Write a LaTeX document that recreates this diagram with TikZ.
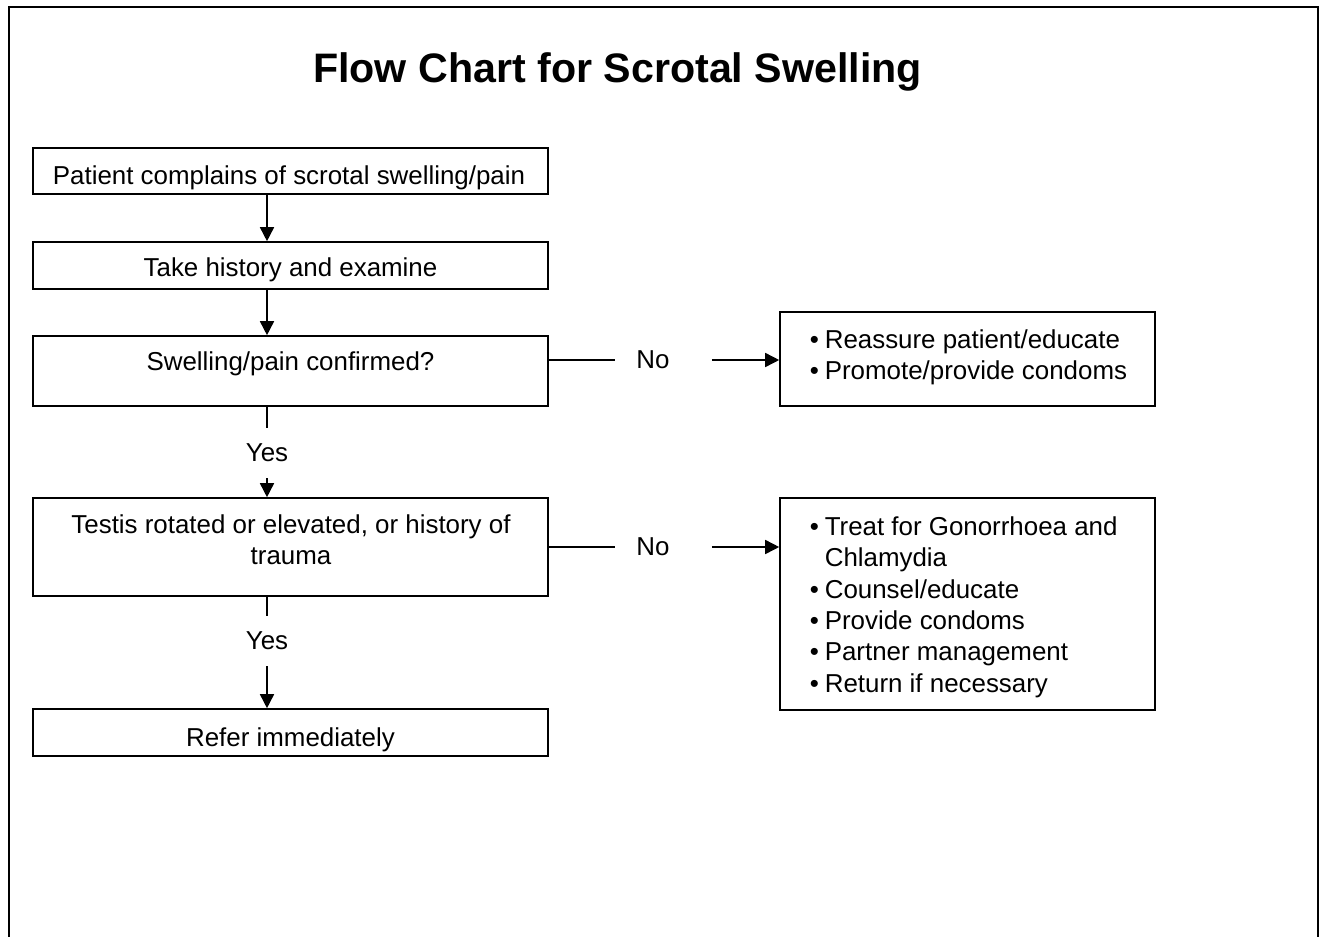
\documentclass[tikz,border=0pt]{standalone}
\usepackage{fontspec}
\setmainfont{Liberation Sans}
\usetikzlibrary{arrows.meta}
\newcommand{\bulitem}{\makebox[7.5pt][l]{\textbullet}}
\tikzset{
  box/.style={draw, line width=0.8pt, minimum width=257.5pt, inner sep=0pt},
  yes/.style={inner xsep=2pt, inner ysep=0pt, minimum height=24.5pt},
  no/.style={inner xsep=10.5pt, inner ysep=0pt},
  bullets/.style={anchor=west, align=left, inner sep=0pt},
}
\begin{document}
\begin{tikzpicture}[x=0.5pt, y=-0.5pt, line width=0.8pt, >={Triangle[length=7pt,width=7pt]},
    font=\fontsize{12.95}{15.7}\selectfont]
  \useasboundingbox (0,0) rectangle (1323,937);
  % page frame, open at the bottom
  \draw[line width=1.2pt] (9,937) -- (9,7) -- (1318,7) -- (1318,937);
  \node[anchor=base, font=\bfseries\fontsize{20.6}{24}\selectfont] (title) at (617.5,82) {Flow Chart for Scrotal Swelling};
  % left column
  \node[box, minimum height=23pt] (b1) at (290.5,171) {};
  \node[box, minimum height=23.5pt] (b2) at (290.5,265.5) {};
  \node[box, minimum height=35pt] (b3) at (290.5,371) {};
  \node[box, minimum height=49pt] (b4) at (290.5,547) {};
  \node[box, minimum height=23.5pt] (b5) at (290.5,732.5) {};
  \node[anchor=base] (t1) at (289,184) {Patient complains of scrotal swelling/pain};
  \node[anchor=base] (t2) at (290.5,276) {Take history and examine};
  \node[anchor=base] (t3) at (290.5,370) {Swelling/pain confirmed?};
  \node[align=center] (t4) at (291,540) {Testis rotated or elevated, or history of\\trauma};
  \node[anchor=base] (t5) at (290.5,746) {Refer immediately};
  % right column
  \node[box, minimum width=187.5pt, minimum height=47pt] (rA) at (967.5,359) {};
  \node[box, minimum width=187.5pt, minimum height=106pt] (rB) at (967.5,604) {};
  \node[bullets] (tA) at (809,357) {\bulitem Reassure patient/educate\\
    \bulitem Promote/provide condoms};
  \node[bullets] (tB) at (809,607) {\bulitem Treat for Gonorrhoea and\\
    \hspace*{7.5pt}Chlamydia\\
    \bulitem Counsel/educate\\
    \bulitem Provide condoms\\
    \bulitem Partner management\\
    \bulitem Return if necessary};
  % connectors
  \coordinate (col) at (267,0);
  \draw[->] (b1.south -| col) -- (b2.north -| col);
  \draw[->] (b2.south -| col) -- (b3.north -| col);
  \node[yes] (y1) at (267,453) {Yes};
  \draw (b3.south -| col) -- (y1.north);
  \draw[->] (y1.south) -- (b4.north -| col);
  \node[yes] (y2) at (267,641) {Yes};
  \draw (b4.south -| col) -- (y2.north);
  \draw[->] (y2.south) -- (b5.north -| col);
  \node[no] (n1) at (653,360) {No};
  \draw (b3.east |- n1) -- (n1.west);
  \draw[->, shorten <=10.25pt] (n1.east) -- (rA.west |- n1);
  \node[no] (n2) at (653,547) {No};
  \draw (b4.east |- n2) -- (n2.west);
  \draw[->, shorten <=10.25pt] (n2.east) -- (rB.west |- n2);
\end{tikzpicture}
\end{document}
